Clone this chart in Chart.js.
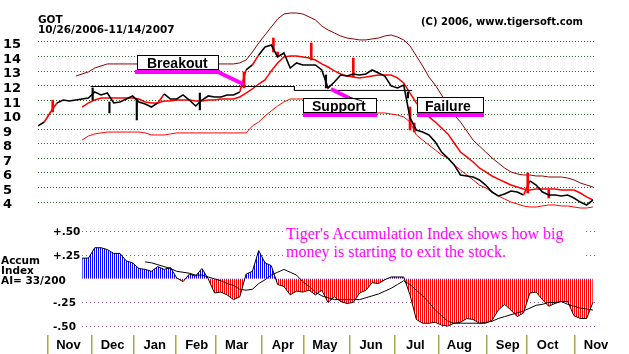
<!DOCTYPE html>
<html>
<head>
<meta charset="utf-8">
<script src="https://cdn.jsdelivr.net/npm/chart.js@4.4.0/dist/chart.umd.min.js"></script>
<style>
  body { margin: 0; background: #fff; }
  #wrap { position: relative; width: 629px; height: 354px; overflow: hidden; }
  #chart { position: absolute; left: 0; top: 0; }
  .txt { position: absolute; white-space: pre; color: #000; }
  .bm { font-family: "DejaVu Sans"; font-weight: bold; }
  #note { left: 283px; top: 225px; width: 300px; height: 37px; padding-left: 3px; box-sizing: border-box;
          background: #fff; color: #ff00ff; font: 16px/18px "Liberation Serif"; }
  svg { position: absolute; left: 0; top: 0; }
</style>
</head>
<body>
<div id="wrap">
  <canvas id="chart" width="629" height="354"></canvas>
  <div class="txt bm" style="left:38px; top:15px; font-size:10.5px; line-height:9.5px;">GOT
10/26/2006-11/14/2007</div>
  <div class="txt bm" style="left:421px; top:15.5px; font-size:10px; line-height:12px;">(C) 2006, www.tigersoft.com</div>
  <div class="txt bm" style="left:1px; top:254.5px; font-size:10.5px; line-height:10px;">Accum
Index
AI= 33/200</div>
  <div class="txt" id="note">Tiger's Accumulation Index shows how big
money is starting to exit the stock.</div>
  <svg width="629" height="354" font-family="Liberation Sans" font-weight="bold" font-size="14">
    <rect x="137.5" y="55.5" width="81" height="14" fill="#fff" stroke="#000"/>
    <text x="147" y="67.5">Breakout</text>
    <rect x="135" y="70" width="85" height="4" fill="#ff00ff"/>
    <line x1="218" y1="72" x2="243" y2="84" stroke="#ff00ff" stroke-width="4"/>

    <line x1="331" y1="89" x2="349" y2="98" stroke="#ff00ff" stroke-width="4"/>
    <rect x="303.5" y="98.5" width="73" height="14" fill="#fff" stroke="#000"/>
    <text x="312" y="111">Support</text>
    <rect x="303" y="113" width="74" height="4" fill="#ff00ff"/>
    <line x1="349" y1="97" x2="362" y2="101" stroke="#000" stroke-width="1"/>

    <rect x="417.5" y="97.5" width="66" height="15" fill="#fff" stroke="#000"/>
    <text x="425" y="110.5">Failure</text>
    <rect x="417" y="113" width="67" height="4" fill="#ff00ff"/>
  </svg>
</div>
<script>
// one sample every 3 trading days, starting 10/26/2006
const STEP = 3;

const closes = [9.23, 9.50, 10.19, 10.81, 11.01, 10.94, 11.01, 11.08, 11.15, 11.56,
  11.36, 11.49, 10.81, 10.88, 11.08, 11.29, 10.88, 10.74, 10.53, 10.81,
  11.43, 11.08, 11.08, 11.36, 11.01, 10.60, 11.01, 11.29, 11.22, 11.22,
  11.36, 11.36, 11.56, 13.08, 13.42, 14.11, 14.66, 14.79, 13.97, 14.24,
  13.21, 13.56, 13.42, 13.42, 13.42, 13.08, 11.84, 12.25, 12.73, 12.66,
  12.80, 12.73, 12.80, 13.08, 12.87, 12.66, 11.98, 11.84, 12.04, 9.78,
  8.95, 8.81, 8.61, 8.13, 7.44, 7.03, 6.55, 5.86, 5.79, 5.72,
  5.52, 5.17, 4.69, 4.42, 4.55, 4.76, 4.69, 4.48, 5.45, 5.17,
  4.69, 4.48, 4.48, 4.42, 4.48, 4.28, 4.00, 3.80, 4.14];

const movingAvg = [null, null, null, null, null, null, null,
  10.53, 10.81, 11.01, 11.15, 11.15, 11.15, 11.15, 11.15, 11.15, 11.08, 10.88, 10.81, 10.81,
  10.94, 10.94, 11.01, 11.01, 11.01, 10.94, 10.94, 11.01, 11.01, 11.08, 11.08, 11.08, 11.22,
  11.49, 11.77, 12.11, 12.39, 13.01, 13.56, 13.97, 14.04, 14.04, 13.97, 13.90, 13.76, 13.49,
  13.28, 13.01, 12.80, 12.66, 12.59, 12.53, 12.59, 12.66, 12.73, 12.73, 12.73, 12.53, 12.18,
  11.49, 10.81, 10.33, 9.85, 9.50, 9.09, 8.68, 8.06, 7.44, 7.10, 6.75, 6.34, 6.07, 5.79,
  5.58, 5.38, 5.17, 5.03, 4.90, 4.83, 4.90, 4.90, 4.90, 4.90, 4.83, 4.83, 4.83, 4.62, 4.35, 4.14];

const upperBand = [null, null, null, null, null, null,
  12.66, 12.80, 12.94, 13.21, 13.35, 13.49, 13.49, 13.49, 13.49, 13.49, 13.49, 13.49, 13.49, 13.49,
  13.49, 13.49, 13.49, 13.49, 13.49, 13.49, 13.49, 13.49, 13.49, 13.49, 13.49, 13.49, 13.56,
  13.76, 14.31, 14.93, 15.48, 16.03, 16.58, 16.92, 16.99, 16.99, 16.92, 16.72, 16.51, 16.10,
  15.82, 15.62, 15.41, 15.27, 15.21, 15.14, 15.14, 15.21, 15.27, 15.41, 15.48, 15.34, 15.14,
  14.73, 14.04, 13.35, 12.59, 12.04, 11.36, 10.60, 9.98, 9.50, 8.88, 8.26, 7.85, 7.44, 7.03,
  6.68, 6.34, 6.07, 5.93, 5.86, 5.86, 5.79, 5.79, 5.72, 5.72, 5.72, 5.65, 5.52, 5.31, 5.17, 5.03];

const lowerBand = [null, null, null, null, null, null, null,
  8.26, 8.54, 8.68, 8.75, 8.81, 8.81, 8.81, 8.81, 8.81, 8.81, 8.75, 8.61, 8.61,
  8.61, 8.68, 8.75, 8.75, 8.75, 8.75, 8.75, 8.75, 8.75, 8.75, 8.75, 8.75, 8.75,
  8.75, 9.23, 9.50, 9.91, 10.26, 10.60, 10.88, 11.08, 11.08, 11.08, 10.94, 10.81, 10.67,
  10.53, 10.46, 10.40, 10.33, 10.26, 10.19, 10.19, 10.12, 10.12, 10.12, 10.05, 9.98, 9.85,
  9.50, 8.61, 8.26, 7.92, 7.58, 7.23, 7.03, 6.55, 6.20, 5.86, 5.52, 5.17, 4.97, 4.69,
  4.42, 4.21, 4.00, 3.87, 3.73, 3.66, 3.66, 3.73, 3.80, 3.80, 3.73, 3.73, 3.66, 3.59, 3.59, 3.66];

// red (up) and black range bars: trading-day index, low, high
const redBarDays = [7, 98, 112, 114, 130, 150, 177, 179, 233, 243];
const redBarLow = [10.19, 11.84, 14.31, 13.97, 13.76, 12.59, 8.95, 8.81, 4.62, 4.28];
const redBarHigh = [11.00, 12.94, 15.27, 14.31, 14.93, 13.90, 10.53, 9.43, 6.00, 4.83];
const blackBarDays = [26, 34, 47, 77, 137, 176];
const blackBarLow = [11.01, 10.12, 9.64, 10.33, 11.84, 11.15];
const blackBarHigh = [11.84, 10.88, 11.08, 11.49, 12.73, 11.56];

// drawn support line
const supportDays = [25, 122, 122, 178];
const supportPrice = [11.94, 11.94, 11.67, 11.67];

const accumIndex = [null, null, null, null, null, null, null,
  0.22, 0.22, 0.33, 0.33, 0.31, 0.27, 0.27, 0.19, 0.17, 0.11, 0.10, 0.08, 0.13,
  0.10, 0.12, 0.01, -0.03, 0.05, 0.03, 0.11, 0.00, -0.15, -0.14, -0.17, -0.22, -0.19,
  0.05, 0.08, 0.30, 0.17, 0.14, -0.06, -0.08, -0.17, -0.13, -0.14, -0.12, -0.17, -0.12,
  -0.25, -0.19, -0.24, -0.26, -0.25, -0.15, -0.12, -0.04, -0.05, -0.01, 0.02, 0.02, 0.02,
  -0.17, -0.43, -0.47, -0.47, -0.46, -0.49, -0.50, -0.47, -0.46, -0.42, -0.43, -0.47, -0.47, -0.44,
  -0.33, -0.27, -0.33, -0.40, -0.36, -0.15, -0.14, -0.22, -0.29, -0.26, -0.24, -0.24, -0.39, -0.42, -0.42, -0.25];

const accumAvg = [null, null, null, null, null, null, null, null, null, null,
  null, null, null, null, null, null, null,
  0.18, 0.17, 0.15, 0.13, 0.11, 0.08, 0.07, 0.06, 0.04, 0.04, 0.02, 0.00,
  -0.02, -0.05, -0.07, -0.11, -0.12, -0.11, -0.05, -0.01, 0.04, 0.07, 0.10, 0.07,
  0.04, -0.03, -0.08, -0.14, -0.18, -0.20, -0.22, -0.22, -0.22, -0.22, -0.22,
  -0.20, -0.18, -0.16, -0.13, -0.10, -0.06, -0.02, -0.06, -0.12, -0.18, -0.25, -0.33,
  -0.39, -0.45, -0.47, -0.47, -0.47, -0.47, -0.47, -0.46, -0.45, -0.42, -0.40, -0.38,
  -0.36, -0.34, -0.31, -0.28, -0.27, -0.25, -0.25, -0.24, -0.27, -0.29, -0.31, -0.32, -0.33];

const monthStarts = [4, 25, 45, 65, 84, 106, 126, 148, 169, 190, 213, 232, 255];
const monthLabels = ['Nov', 'Dec', 'Jan', 'Feb', 'Mar', 'Apr', 'May', 'Jun', 'Jul', 'Aug', 'Sep', 'Oct', 'Nov'];
const priceTicks = [4, 5, 6, 7, 8, 9, 10, 11, 12, 13, 14, 15];
const accumTicks = [-0.5, -0.25, 0.25, 0.5];
const accumTickLabels = ['-.50', '-.25', '+.25', '+.50'];

const pts = arr => arr.map((v, i) => ({x: i * STEP, y: v}));
const ranges = (days, lo, hi) => days.map((d, i) => ({x: d, y: [lo[i], hi[i]]}));

const canvas = document.getElementById('chart');
const ctx = canvas.getContext('2d');

function stripes(color) {
  const c = document.createElement('canvas');
  c.width = 2; c.height = 1;
  const g = c.getContext('2d');
  g.fillStyle = color;
  g.fillRect(0, 0, 1, 1);
  return ctx.createPattern(c, 'repeat');
}

// blank the AI panel left of where the index starts (only the labels show there)
const aiMask = {
  id: 'aiMask',
  beforeDatasetsDraw(chart) {
    const {ctx, chartArea, scales} = chart;
    const firstDay = accumIndex.findIndex(v => v !== null) * STEP;
    const right = scales.x.getPixelForValue(firstDay);
    ctx.save();
    ctx.fillStyle = '#fff';
    ctx.fillRect(chartArea.left, scales.y2.top, right - chartArea.left, scales.y2.bottom - scales.y2.top);
    ctx.restore();
  }
};

// no extra label padding around the plot; the panel sizes are fixed
const fixWidth = s => { s.width = 35; s.paddingTop = 0; s.paddingBottom = 0; };

Chart.defaults.font.family = 'Liberation Sans';

const nSep = monthStarts.length;

new Chart(canvas, {
  type: 'line',
  data: {
    datasets: [
      {label: 'Close', data: pts(closes), borderColor: '#000', borderWidth: 1.6, yAxisID: 'y',
        // big up-moves are painted red like the up bars
        segment: {borderColor: s => s.p1.parsed.y - s.p0.parsed.y > 0.6 ? '#ff0000' : '#000'}},
      {type: 'bar', label: 'Up', data: ranges(redBarDays, redBarLow, redBarHigh),
        backgroundColor: '#ff0000', barThickness: 2, grouped: false, yAxisID: 'y'},
      {type: 'bar', label: 'Range', data: ranges(blackBarDays, blackBarLow, blackBarHigh),
        backgroundColor: '#000', barThickness: 1.5, grouped: false, yAxisID: 'y'},
      {label: 'Support', data: supportDays.map((d, i) => ({x: d, y: supportPrice[i]})),
        borderColor: '#000', borderWidth: 1, yAxisID: 'y'},
      {label: 'MA', data: pts(movingAvg), borderColor: '#ff0000', borderWidth: 1.5, yAxisID: 'y'},
      {label: 'Upper', data: pts(upperBand), borderColor: '#8b0000', borderWidth: 1, yAxisID: 'y'},
      {label: 'Lower', data: pts(lowerBand), borderColor: '#ff0000', borderWidth: 1, yAxisID: 'y'},
      {label: 'AI avg', data: pts(accumAvg), borderColor: '#000', borderWidth: 1, yAxisID: 'y2'},
      {label: 'AI', data: pts(accumIndex), borderColor: '#000', borderWidth: 1, yAxisID: 'y2',
        fill: {target: {value: 0}, above: stripes('#0000ff'), below: stripes('#ff0000')}}
    ]
  },
  options: {
    animation: false,
    responsive: false,
    events: [],
    layout: {padding: {left: 3, right: 34, top: 5, bottom: 0}},
    elements: {point: {radius: 0}, line: {tension: 0}},
    plugins: {legend: {display: false}, tooltip: {enabled: false}},
    scales: {
      x: {
        type: 'linear', min: 0, max: 265, offset: false,
        afterFit: s => { s.height = 19; s.paddingLeft = 0; s.paddingRight = 0; },
        afterBuildTicks: s => {
          s.ticks = monthStarts.map(d => ({value: d + 0.5}))
            .concat(monthStarts.map(d => ({value: d + 10.5})));
        },
        ticks: {
          autoSkip: false, maxRotation: 0, padding: -16, color: '#000',
          font: {size: 13, weight: 'bold'},
          callback: (v, i) => i < nSep ? '' : monthLabels[i - nSep]
        },
        grid: {
          offset: false, drawOnChartArea: false, tickLength: 19, lineWidth: 1.5,
          color: c => c.index < nSep ? '#a8a84a' : 'rgba(0,0,0,0)'
        },
        border: {display: false}
      },
      y: {
        type: 'linear', position: 'left', stack: 'panels', stackWeight: 210, weight: 2,
        min: 3.11, max: 17.54,
        afterFit: fixWidth,
        afterBuildTicks: s => { s.ticks = priceTicks.map(v => ({value: v})); },
        ticks: {autoSkip: false, crossAlign: 'far', labelOffset: 3, color: '#000',
          font: {family: 'DejaVu Sans', size: 13, weight: 'bold'}},
        grid: {color: '#2f6f2f', drawTicks: false},
        border: {display: false, dash: [1, 2]}
      },
      y2: {
        type: 'linear', position: 'left', stack: 'panels', stackWeight: 120, weight: 1,
        min: -0.595, max: 0.677,
        afterFit: fixWidth,
        afterBuildTicks: s => { s.ticks = accumTicks.map(v => ({value: v})); },
        ticks: {autoSkip: false, mirror: true, padding: 15, crossAlign: 'near', z: 1, color: '#000',
          labelOffset: 1, font: {family: 'DejaVu Sans', size: 10.5, weight: 'bold'},
          callback: (v, i) => accumTickLabels[i]},
        grid: {color: '#995599', drawTicks: false},
        border: {display: false, dash: [1, 3]}
      }
    }
  },
  plugins: [aiMask]
});
</script>
</body>
</html>
